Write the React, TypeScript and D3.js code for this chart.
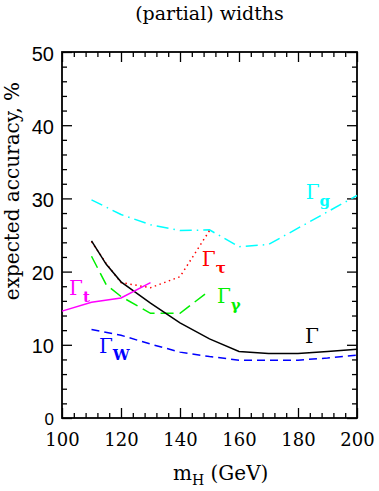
import React, { useEffect, useRef } from "react";
import * as d3 from "d3";

// values: m_H in GeV, expected accuracy in %
const massG = [110, 120, 130, 140, 150, 160, 170, 200];
const accG = [29.8, 27.8, 26.4, 25.6, 25.7, 23.4, 23.7, 30.4];

const massTau = [110, 115, 120, 130, 140, 150];
const accTau = [24.1, 21.1, 18.5, 17.8, 19.3, 25.6];

const massGamma = [110, 115, 120, 130, 140, 150];
const accGamma = [22.1, 18.2, 16.6, 14.3, 14.3, 17.4];

const massTot = [110, 115, 120, 130, 140, 150, 160, 170, 180, 190, 200];
const accTot = [24.2, 21.0, 18.6, 15.7, 13.0, 10.8, 9.1, 8.8, 8.8, 9.1, 9.4];

const massT = [100, 110, 120, 130];
const accT = [14.6, 15.8, 16.4, 18.5];

const massW = [110, 120, 130, 140, 150, 160, 170, 180, 190, 200];
const accW = [12.1, 11.3, 10.1, 9.0, 8.4, 7.9, 7.9, 7.9, 8.2, 8.6];

const xMajor = [100, 120, 140, 160, 180, 200];
const yMajor = [0, 10, 20, 30, 40, 50];

// label anchors (data coords) for the curve names
const labelNames = ["g", "τ", "γ", "", "t", "W"];
const labelX = [182.6, 147.4, 152.5, 182.4, 102.4, 112.5];
const labelY = [29.9, 20.8, 15.7, 10.2, 16.8, 8.9];

const Chart = () => {
  const svgRef = useRef<SVGSVGElement>(null);

  useEffect(() => {
    const W = 379;
    const H = 491;
    const margin = { top: 52, right: 22, bottom: 73, left: 62 };

    const svg = d3.select(svgRef.current);
    svg.selectAll("*").remove();

    const x = d3.scaleLinear().domain([100, 200]).range([margin.left, W - margin.right]);
    const y = d3.scaleLinear().domain([0, 50]).range([H - margin.bottom, margin.top]);

    const xMinor = d3.range(100, 201, 4).filter(v => !xMajor.includes(v));
    const yMinor = d3.range(0, 51, 2).filter(v => !yMajor.includes(v));

    // ---- ticks on all four sides, pointing inwards
    const serif = "'DejaVu Serif', serif";
    const sans = "'Liberation Sans', Arial, sans-serif";

    const tidy = (g: any) => {
      g.select(".domain").remove();
      g.selectAll("line").attr("stroke", "#000").attr("stroke-width", 1.3);
    };

    svg.append("g")
      .attr("transform", `translate(0,${y(0)})`)
      .call(d3.axisBottom(x).tickValues(xMajor).tickSizeInner(-10).tickSizeOuter(0).tickPadding(15).tickFormat(d3.format("d")))
      .call(tidy)
      .attr("font-family", serif)
      .attr("font-size", 18)
      .selectAll("text").attr("fill", "#000");
    svg.append("g")
      .attr("transform", `translate(0,${y(0)})`)
      .call(d3.axisBottom(x).tickValues(xMinor).tickSizeInner(-5).tickSizeOuter(0).tickFormat(() => ""))
      .call(tidy);
    svg.append("g")
      .attr("transform", `translate(0,${y(50)})`)
      .call(d3.axisTop(x).tickValues(xMajor).tickSizeInner(-10).tickSizeOuter(0).tickFormat(() => ""))
      .call(tidy);
    svg.append("g")
      .attr("transform", `translate(0,${y(50)})`)
      .call(d3.axisTop(x).tickValues(xMinor).tickSizeInner(-5).tickSizeOuter(0).tickFormat(() => ""))
      .call(tidy);

    const left = svg.append("g")
      .attr("transform", `translate(${x(100)},0)`)
      .call(d3.axisLeft(y).tickValues(yMajor).tickSizeInner(-10).tickSizeOuter(0).tickPadding(8).tickFormat(d3.format("d")))
      .call(tidy)
      .attr("font-family", sans)
      .attr("font-size", 20);
    left.selectAll("text")
      .attr("fill", "#000")
      .attr("dy", "0.4em")
      .attr("font-size", (d: any) => (d === 0 ? 17 : 20));
    svg.append("g")
      .attr("transform", `translate(${x(100)},0)`)
      .call(d3.axisLeft(y).tickValues(yMinor).tickSizeInner(-5).tickSizeOuter(0).tickFormat(() => ""))
      .call(tidy);
    svg.append("g")
      .attr("transform", `translate(${x(200)},0)`)
      .call(d3.axisRight(y).tickValues(yMajor).tickSizeInner(-10).tickSizeOuter(0).tickFormat(() => ""))
      .call(tidy);
    svg.append("g")
      .attr("transform", `translate(${x(200)},0)`)
      .call(d3.axisRight(y).tickValues(yMinor).tickSizeInner(-5).tickSizeOuter(0).tickFormat(() => ""))
      .call(tidy);

    // frame
    svg.append("rect")
      .attr("x", x(100))
      .attr("y", y(50))
      .attr("width", x(200) - x(100))
      .attr("height", y(0) - y(50))
      .attr("fill", "none")
      .attr("stroke", "#000")
      .attr("stroke-width", 1.8);

    // ---- curves
    const series = [
      { m: massG, v: accG, color: "#00ffff", dash: "12,5,1.5,5" },
      { m: massTau, v: accTau, color: "#ff0000", dash: "1.5,3.5" },
      { m: massGamma, v: accGamma, color: "#00f000", dash: "13,6" },
      { m: massTot, v: accTot, color: "#000000", dash: null },
      { m: massT, v: accT, color: "#ff00ff", dash: null },
      { m: massW, v: accW, color: "#0000ff", dash: "8,5" }
    ];

    const line = d3.line<[number, number]>()
      .x(d => x(d[0]))
      .y(d => y(d[1]));

    svg.append("g")
      .selectAll("path")
      .data(series)
      .join("path")
      .attr("d", s => line(s.m.map((m, i) => [m, s.v[i]] as [number, number])))
      .attr("fill", "none")
      .attr("stroke", s => s.color)
      .attr("stroke-width", 1.5)
      .attr("stroke-dasharray", s => s.dash);

    // ---- curve names
    const labels = svg.append("g").attr("font-family", serif);
    labelNames.forEach((sub, i) => {
      const t = labels.append("text")
        .attr("x", x(labelX[i]))
        .attr("y", y(labelY[i]))
        .attr("fill", series[i].color);
      t.append("tspan").attr("font-size", 20).text("Γ");
      if (sub) t.append("tspan").attr("font-size", 15).attr("font-weight", "bold").attr("dy", 7).text(sub);
    });

    // ---- titles
    svg.append("text")
      .attr("x", (x(100) + x(200)) / 2)
      .attr("y", 20)
      .attr("text-anchor", "middle")
      .attr("font-family", serif)
      .attr("font-size", 19)
      .text("(partial) widths");

    svg.append("text")
      .attr("transform", `translate(19,${(y(0) + y(50)) / 2 - 44}) rotate(-90)`)
      .attr("text-anchor", "middle")
      .attr("font-family", serif)
      .attr("font-size", 20)
      .text("expected accuracy, %");

    const xt = svg.append("text")
      .attr("x", 173)
      .attr("y", 480)
      .attr("font-family", serif)
      .attr("font-size", 20);
    xt.append("tspan").text("m");
    xt.append("tspan").attr("font-size", 14).attr("dy", 5).text("H");
    xt.append("tspan").attr("dy", -5).text(" (GeV)");
  }, []);

  return (
    <svg
      ref={svgRef}
      width={379}
      height={491}
      style={{ position: "absolute", left: 0, top: 0, background: "#fff" }}
    />
  );
};

export default function App() {
  return <Chart />;
}
